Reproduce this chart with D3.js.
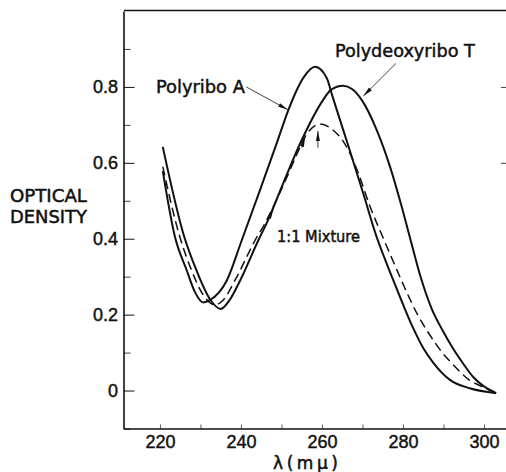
<!DOCTYPE html>
<html>
<head>
<meta charset="utf-8">
<script src="https://cdn.jsdelivr.net/npm/d3@7"></script>
<style>
  html, body { margin: 0; padding: 0; background: #fff; }
  svg { display: block; font-family: "DejaVu Sans", sans-serif; }
  .axis path, .axis line { stroke: #111; }
  .axis text { fill: #111; font-size: 18px; stroke: #111; stroke-width: 0.45px; }
  .label, .title { fill: #111; stroke: #111; stroke-width: 0.5px; }
</style>
</head>
<body>
<div id="chart"></div>
<script>
// wavelength (m\u03bc) and optical density
const polyriboA_x = [220.7, 223.7, 226.6, 228.7, 230.7, 232.3, 236.5, 240.2, 244.7, 249.1, 251.7, 255.6, 258.3, 261.2, 262.6, 266.5, 270.2, 273.5, 275.6, 277.7, 279.9, 282.5, 285.0, 287.5, 291.6, 296.5, 303.0];
const polyriboA_y = [0.578, 0.405, 0.317, 0.258, 0.232, 0.238, 0.290, 0.396, 0.528, 0.660, 0.739, 0.827, 0.853, 0.823, 0.775, 0.645, 0.519, 0.405, 0.345, 0.288, 0.230, 0.165, 0.112, 0.073, 0.028, 0.006, -0.007];

const polyT_x = [220.7, 226.0, 229.0, 232.4, 235.0, 237.3, 239.8, 244.3, 246.3, 250.2, 255.0, 260.3, 262.2, 265.2, 267.5, 269.8, 273.5, 276.8, 279.7, 281.8, 284.2, 287.0, 289.8, 292.4, 294.8, 297.4, 300.0, 303.0];
const polyT_y = [0.642, 0.405, 0.317, 0.240, 0.215, 0.240, 0.290, 0.396, 0.440, 0.540, 0.660, 0.766, 0.792, 0.803, 0.794, 0.766, 0.687, 0.590, 0.484, 0.400, 0.305, 0.218, 0.158, 0.110, 0.072, 0.035, 0.011, -0.007];

const mixture_x = [220.7, 224.9, 227.8, 230.5, 233.6, 235.6, 238.5, 243.5, 245.9, 250.2, 253.5, 256.2, 259.5, 263.2, 265.3, 266.5, 269.0, 271.9, 275.2, 278.0, 280.8, 283.6, 286.6, 289.7, 292.6, 296.1, 300.0, 303.0];
const mixture_y = [0.590, 0.405, 0.317, 0.255, 0.226, 0.238, 0.290, 0.396, 0.440, 0.535, 0.615, 0.675, 0.702, 0.682, 0.656, 0.634, 0.572, 0.484, 0.400, 0.330, 0.262, 0.200, 0.147, 0.100, 0.066, 0.030, 0.008, -0.007];

const xTicks = [220, 240, 260, 280, 300];
const yTicks = [0, 0.2, 0.4, 0.6, 0.8];
const yMinorTicks = [-0.1, 0.1, 0.3, 0.5, 0.7, 0.9];
const xMinorTicks = [220, 230, 240, 250, 260, 270, 280, 290, 300];
const yTickLabels = ["0", "0.2", "0.4", "0.6", "0.8"];

const width = 506, height = 472;

const svg = d3.select("#chart")
  .append("svg")
  .attr("width", width)
  .attr("height", height);

const xScale = d3.scaleLinear()
  .domain([211, 305.44])
  .range([123.5, 506]);

const yScale = d3.scaleLinear()
  .domain([-0.1, 1.0])
  .range([428.5, 11]);

// left axis, ticks point inward
const yAxis = d3.axisLeft(yScale)
  .tickValues(yTicks)
  .tickFormat((d, i) => yTickLabels[i])
  .tickSizeInner(-11)
  .tickSizeOuter(0)
  .tickPadding(5.5);

svg.append("g")
  .attr("class", "axis y-axis")
  .attr("transform", `translate(${xScale.range()[0]},0)`)
  .call(yAxis)
  .call(g => g.select(".domain").attr("stroke-width", 1.6))
  .call(g => g.selectAll(".tick line").attr("stroke-width", 1));

svg.append("g")
  .attr("class", "axis y-minor")
  .attr("transform", `translate(${xScale.range()[0]},0)`)
  .call(d3.axisLeft(yScale).tickValues(yMinorTicks).tickFormat("").tickSizeInner(-7).tickSizeOuter(0))
  .call(g => g.select(".domain").remove())
  .call(g => g.selectAll(".tick line").attr("stroke-width", 0.8).attr("stroke", "#555"));

// bottom axis
const xAxis = d3.axisBottom(xScale)
  .tickValues(xTicks)
  .tickSizeInner(0)
  .tickSizeOuter(0)
  .tickPadding(7);

svg.append("g")
  .attr("class", "axis x-axis")
  .attr("transform", `translate(0,${yScale.range()[0]})`)
  .call(xAxis)
  .call(g => g.select(".domain").attr("stroke-width", 1.6));

svg.append("g")
  .attr("class", "axis x-minor")
  .attr("transform", `translate(0,${yScale.range()[0]})`)
  .call(d3.axisBottom(xScale).tickValues(xMinorTicks).tickFormat("").tickSizeInner(-4).tickSizeOuter(0))
  .call(g => g.select(".domain").remove())
  .call(g => g.selectAll(".tick line").attr("stroke-width", 0.7).attr("stroke", "#999"));

// top border
svg.append("g")
  .attr("class", "axis top-axis")
  .attr("transform", `translate(0,${yScale.range()[1] - 1})`)
  .call(d3.axisTop(xScale).tickValues([]).tickSizeOuter(0))
  .call(g => g.select(".domain").attr("stroke-width", 1.5));

// stray ticks at the right edge
svg.append("g")
  .attr("class", "axis right-ticks")
  .attr("transform", `translate(${width},0)`)
  .call(d3.axisLeft(yScale).tickValues([0.6, 0.8]).tickFormat("").tickSizeInner(5).tickSizeOuter(0))
  .call(g => g.select(".domain").remove())
  .call(g => g.selectAll(".tick line").attr("stroke-width", 0.8).attr("stroke", "#666"));

// axis titles
svg.append("text")
  .attr("class", "title")
  .attr("x", 10).attr("y", 202)
  .attr("font-size", 18)
  .attr("textLength", 77).attr("lengthAdjust", "spacingAndGlyphs")
  .text("OPTICAL");

svg.append("text")
  .attr("class", "title")
  .attr("x", 10).attr("y", 223)
  .attr("font-size", 18)
  .attr("textLength", 77).attr("lengthAdjust", "spacingAndGlyphs")
  .text("DENSITY");

svg.append("text")
  .attr("class", "title")
  .attr("x", 273).attr("y", 469)
  .attr("font-size", 17)
  .attr("textLength", 65).attr("lengthAdjust", "spacing")
  .text("\u03bb(m\u03bc)");

// curves
const line = d3.line()
  .x(d => xScale(d[0]))
  .y(d => yScale(d[1]))
  .curve(d3.curveMonotoneX);

const series = [
  { name: "Polyribo A", xs: polyriboA_x, ys: polyriboA_y, dash: null },
  { name: "Polydeoxyribo T", xs: polyT_x, ys: polyT_y, dash: null },
  { name: "1:1 Mixture", xs: mixture_x, ys: mixture_y, dash: "9,5" }
];

svg.selectAll(".curve")
  .data(series)
  .join("path")
  .attr("class", "curve")
  .attr("fill", "none")
  .attr("stroke", "#111")
  .attr("stroke-width", d => d.dash ? 1.5 : 2)
  .attr("stroke-dasharray", d => d.dash)
  .attr("stroke-linejoin", "round")
  .attr("d", d => line(d.xs.map((x, i) => [x, d.ys[i]])));

// labels with arrows
svg.append("defs").append("marker")
  .attr("id", "arrow")
  .attr("viewBox", "0 0 10 4")
  .attr("refX", 10).attr("refY", 2)
  .attr("markerWidth", 10).attr("markerHeight", 4)
  .attr("markerUnits", "userSpaceOnUse")
  .attr("orient", "auto")
  .append("path")
  .attr("d", "M0,0L10,2L0,4Z")
  .attr("fill", "#111");

const labels = [
  { text: "Polyribo A", x: 219.0, y: 0.784, len: 89, size: 18 },
  { text: "Polydeoxyribo T", x: 263.2, y: 0.879, len: 140, size: 18 },
  { text: "1:1 Mixture", x: 248.9, y: 0.391, len: 83, size: 16 }
];

svg.selectAll(".label")
  .data(labels)
  .join("text")
  .attr("class", "label")
  .attr("x", d => xScale(d.x))
  .attr("y", d => yScale(d.y))
  .attr("font-size", d => d.size)
  .attr("textLength", d => d.len)
  .attr("lengthAdjust", "spacingAndGlyphs")
  .text(d => d.text);

const arrows = [
  { x1: 241.3, y1: 0.800, x2: 251.6, y2: 0.740 },
  { x1: 278.3, y1: 0.862, x2: 270.2, y2: 0.776 },
  { x1: 246.3, y1: 0.440, x2: 248.0, y2: 0.478 },
  { x1: 255.0, y1: 0.640, x2: 255.8, y2: 0.668 },
  { x1: 259.0, y1: 0.640, x2: 259.0, y2: 0.684 }
];

svg.selectAll(".arrow")
  .data(arrows)
  .join("line")
  .attr("class", "arrow")
  .attr("x1", d => xScale(d.x1)).attr("y1", d => yScale(d.y1))
  .attr("x2", d => xScale(d.x2)).attr("y2", d => yScale(d.y2))
  .attr("stroke", "#111")
  .attr("stroke-width", 0.8)
  .attr("marker-end", "url(#arrow)");
</script>
</body>
</html>
